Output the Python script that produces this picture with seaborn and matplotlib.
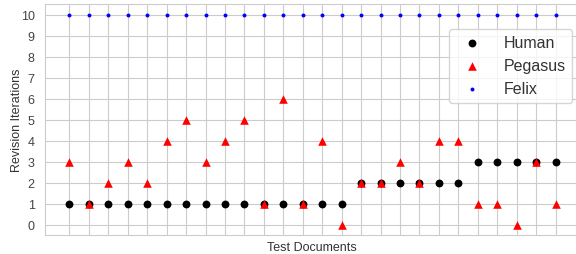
import numpy as np
import matplotlib
matplotlib.use('Agg')
import matplotlib.pyplot as plt
import seaborn as sns
import pandas as pd

sns.set_style('whitegrid')
plt.rcParams['font.family'] = ['Liberation Sans', 'DejaVu Sans']

docs = list(range(26))
human = [1, 1, 1, 1, 1, 1, 1, 1, 1, 1, 1, 1, 1, 1, 1,
         2, 2, 2, 2, 2, 2, 3, 3, 3, 3, 3]
pegasus = [3, 1, 2, 3, 2, 4, 5, 3, 4, 5, 1, 6, 1, 4, 0,
           2, 2, 3, 2, 4, 4, 1, 1, 0, 3, 1]
felix = [10] * 26

df = pd.DataFrame({'doc': docs, 'Human': human, 'Pegasus': pegasus, 'Felix': felix})

fig = plt.figure(figsize=(5.76, 2.55), dpi=100)
ax = fig.add_axes([45 / 576, 19 / 255, 535 / 576, 231 / 255])

sns.scatterplot(data=df, x='doc', y='Human', ax=ax, color='black', marker='o',
                s=32, linewidth=0, label='Human')
sns.scatterplot(data=df, x='doc', y='Pegasus', ax=ax, color='red', marker='^',
                s=38, linewidth=0, label='Pegasus')
sns.scatterplot(data=df, x='doc', y='Felix', ax=ax, color='blue', marker='o',
                s=8, linewidth=0, label='Felix')

ax.set_xlim(-1.25, 26.25)
ax.set_ylim(-0.5, 10.5)
ax.set_xticks(docs)
ax.set_xticklabels([])
ax.set_yticks(range(11))
ax.tick_params(axis='y', labelsize=9, colors='#444444', pad=4)
ax.set_xlabel('Test Documents', fontsize=9, color='#333333')
ax.set_ylabel('Revision Iterations', fontsize=9, color='#333333')
ax.xaxis.set_label_coords((312 - 45) / 535, -6 / 231)
ax.yaxis.set_label_coords(-22 / 535, 0.5)
for s in ax.spines.values():
    s.set_color('#cccccc')

leg = ax.legend(loc='upper right', fontsize=11.5, handletextpad=1.0,
                bbox_to_anchor=(572 / 576, 1 - 30 / 255),
                bbox_transform=fig.transFigure, borderaxespad=0)
for t in leg.get_texts():
    t.set_color('#333333')

plt.savefig('out.png', dpi=100)
